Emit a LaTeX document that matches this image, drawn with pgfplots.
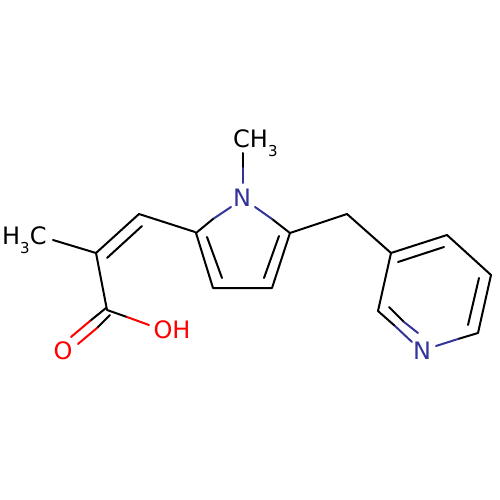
\documentclass[border=0pt]{standalone}
\usepackage{fontspec}
\setmainfont{DejaVu Sans}
\usepackage{pgfplots}
\pgfplotsset{compat=1.18}
\definecolor{nblue}{RGB}{51,51,153}
\definecolor{ored}{RGB}{255,0,0}
\definecolor{bondk}{RGB}{0,0,0}
\newcommand{\bond}[2]{\addplot[#1,line width=2pt,line cap=round,line join=round,no markers] coordinates {#2};}
\newcommand{\subthree}{\raisebox{-9pt}{\fontsize{15}{15}\selectfont 3}}
\begin{document}
\begin{tikzpicture}
\useasboundingbox (0,0) rectangle (500pt,500pt);
\begin{axis}[at={(0,0)},anchor=south west,width=500pt,height=500pt,scale only axis,xmin=0,xmax=500,ymin=0,ymax=500,y dir=reverse,axis lines=none,clip=false]
% left part
\bond{bondk}{(53,240)(96,253)(139,214)(195,232)}
\bond{bondk}{(107,258)(142,226)}
\bond{bondk}{(96,253)(107,310)(127,317)}
\bond{ored}{(127,317)(149,325)}
\bond{bondk}{(106,308)(90,321)}
\bond{ored}{(90,321)(71,337)}
\bond{bondk}{(110,315)(97,328)}
\bond{ored}{(97,328)(78,344)}
% pyrrole
\bond{bondk}{(243,153)(243,168)}
\bond{nblue}{(243,168)(243,183)}
\bond{nblue}{(231,207)(213,219)}
\bond{bondk}{(213,219)(196,233)(213,288)(272,288)(290,233)(272,219)}
\bond{nblue}{(272,219)(255,207)}
\bond{bondk}{(207,237)(222,278)}
\bond{bondk}{(279,236)(264,278)}
% linker
\bond{bondk}{(290,233)(347,214)(391,253)}
% pyridine
\bond{bondk}{(378,311)(391,253)(447,235)(491,275)(478,333)(458,339)}
\bond{nblue}{(458,339)(436,346)}
\bond{bondk}{(378,311)(395,326)}
\bond{nblue}{(395,326)(412,342)}
\bond{bondk}{(398,262)(444,247)}
\bond{bondk}{(479,278)(468,325)}
\bond{bondk}{(389,307)(404,322)}
\bond{nblue}{(404,322)(418,333)}
% labels
\node[font=\fontsize{24}{28}\selectfont,text=nblue,inner sep=0pt] at (axis cs:242,198) {N};
\node[font=\fontsize{24}{28}\selectfont,text=nblue,inner sep=0pt] at (axis cs:422,351) {N};
\node[font=\fontsize{24}{28}\selectfont,text=ored,inner sep=0pt] at (axis cs:63,351) {O};
\node[font=\fontsize{24}{28}\selectfont,text=ored,inner sep=0pt] at (axis cs:172,330) {OH};
\node[font=\fontsize{24}{28}\selectfont,inner sep=0pt,anchor=base west] at (axis cs:233,148) {CH\subthree};
\node[font=\fontsize{24}{28}\selectfont,inner sep=0pt,anchor=base west] at (axis cs:2,244) {H\subthree C};
\end{axis}
\end{tikzpicture}
\end{document}
